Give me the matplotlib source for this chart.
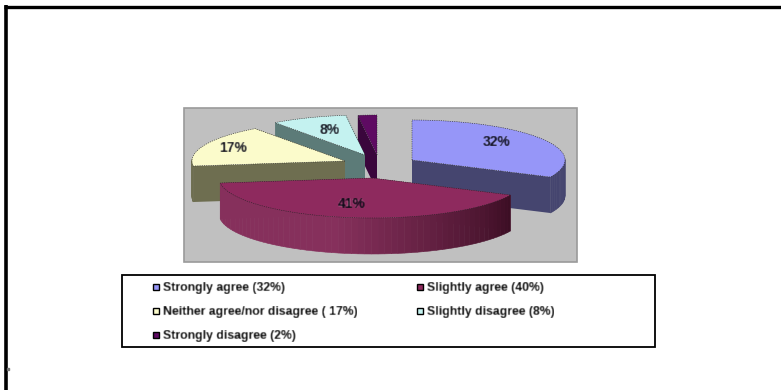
import numpy as np
import matplotlib
matplotlib.use("Agg")
import matplotlib.pyplot as plt
from matplotlib.patches import Rectangle, Polygon

# pie values as printed on the slices, clockwise from 12 o'clock
categories = ["Strongly agree", "Slightly agree", "Neither agree/nor disagree",
              "Slightly disagree", "Strongly disagree"]
values = [32, 41, 17, 8, 2]
slice_labels = ["32%", "41%", "17%", "8%", ""]
# the legend disagrees a little with the slices (40% vs 41%), keep it as is
legend_labels = ["Strongly agree (32%)", "Slightly agree (40%)",
                 "Neither agree/nor disagree ( 17%)", "Slightly disagree (8%)",
                 "Strongly disagree (2%)"]

top_colors = ["#9696F8", "#8E2A5E", "#FBFBCB", "#C4F2F0", "#5E0A62"]
rim_light = ["#45456F", "#86305C", "#6E6E50", "#5C7B78", "#3A063C"]
rim_dark = ["#35355F", "#3C0E24", "#6E6E50", "#5C7B78", "#2A042C"]

# exploded slice centres in pixels
centers = [(412, 160), (372, 178), (345, 161), (365, 155), (377, 155)]
draw_order = [4, 3, 2, 0, 1]
label_pos = [(497, 142), (352, 204), (233, 148), (330, 130)]
RX, RY, DEPTH = 153, 40, 36

fig = plt.figure(figsize=(7.81, 3.90), dpi=100)
ax = fig.add_axes([0, 0, 1, 1])
ax.set_xlim(0, 781)
ax.set_ylim(390, 0)
ax.axis("off")


def rim_point(c, ang):
    return c[0] + RX * np.sin(ang), c[1] - RY * np.cos(ang)


def soften(img, dpi):
    # the source is a blurry scan, smear the text a bit
    out = img.astype(float)
    kernel = np.array([0.15, 0.7, 0.15])
    out = np.apply_along_axis(lambda m: np.convolve(m, kernel, mode="same"), 0, out)
    out = np.apply_along_axis(lambda m: np.convolve(m, kernel, mode="same"), 1, out)
    return out, 0, 0


# page frame, only top and left are visible
ax.plot([4, 781], [6.5, 6.5], color="black", lw=2.4, solid_capstyle="butt")
ax.plot([5.5, 5.5], [5, 390], color="black", lw=2.6, solid_capstyle="butt")
ax.plot([8], [369], marker="s", ms=1.5, color="#777777")

# plot area
ax.add_patch(Rectangle((184, 108), 393, 154, fc="#C0C0C0", ec="#9A9A9A", lw=1.2))

# slices back to front
fracs = np.array(values) / sum(values)
edges = np.concatenate([[0], np.cumsum(fracs)]) * 2 * np.pi
for i in draw_order:
    c = centers[i]
    a0, a1 = edges[i], edges[i + 1]
    z = 2 + draw_order.index(i)
    angs = np.linspace(a0, a1, 60)
    arc = [rim_point(c, a) for a in angs]

    # the two cut faces
    for a in (a0, a1):
        p = rim_point(c, a)
        ax.add_patch(Polygon([c, p, (p[0], p[1] + DEPTH), (c[0], c[1] + DEPTH)],
                             fc=rim_light[i], ec="none", zorder=z))

    # outer wall, darker towards the right
    light = np.array(matplotlib.colors.to_rgb(rim_light[i]))
    dark = np.array(matplotlib.colors.to_rgb(rim_dark[i]))
    for j in range(len(angs) - 1):
        if np.cos(angs[j]) > 0.05:
            continue
        t = (angs[j] - a0) / (a1 - a0)
        col = dark + (light - dark) * min(1, t * 1.9)
        p, q = arc[j], arc[j + 1]
        ax.add_patch(Polygon([p, q, (q[0], q[1] + DEPTH), (p[0], p[1] + DEPTH)],
                             fc=col, ec=col, lw=0.4, zorder=z))

    ax.add_patch(Polygon([c] + arc, fc=top_colors[i], ec="#222222", lw=0.4, ls=(0, (2, 2)), zorder=z + 0.5))

for (x, y), s in zip(label_pos, [t for t in slice_labels if t]):
    t = ax.text(x, y, s, ha="center", va="center", fontsize=10, fontweight="bold",
                family="Liberation Sans", color="#0c0c18", zorder=20)
    t.set_agg_filter(soften)

# legend box
ax.add_patch(Rectangle((122, 275), 533, 72, fc="white", ec="black", lw=1.3))
legend_xy = [(152, 287), (416, 287), (152, 311), (416, 311), (152, 335)]
for (x, y), s, col in zip(legend_xy, legend_labels, top_colors):
    ax.add_patch(Rectangle((x + 1, y - 3), 6, 6, fc=col, ec="black", lw=1.0))
    t = ax.text(x + 11, y + 1, s, ha="left", va="center", fontsize=8.8, fontweight="bold",
                family="Liberation Sans", color="black")
    t.set_agg_filter(soften)

fig.savefig("out.png", dpi=100)
